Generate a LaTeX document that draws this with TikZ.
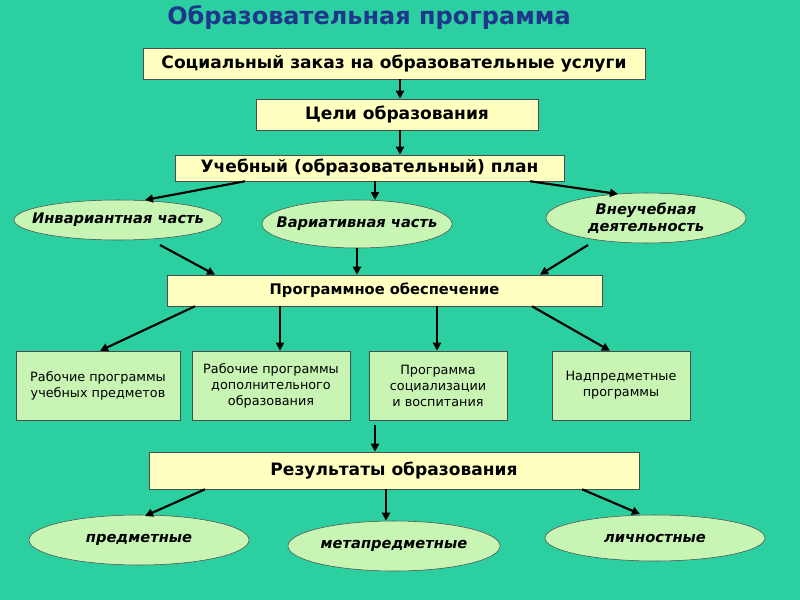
\documentclass[tikz,border=0pt]{standalone}
\usepackage{fontspec}
\setmainfont{DejaVu Sans}
\usetikzlibrary{shapes.geometric,arrows.meta}
\definecolor{bg}{RGB}{44,208,160}
\definecolor{yel}{RGB}{255,255,192}
\definecolor{lgr}{RGB}{200,245,180}
\definecolor{ttl}{RGB}{30,55,140}
\begin{document}
\begin{tikzpicture}[x=0.75pt,y=-0.75pt,
 ybox/.style={draw=black!70,fill=yel,minimum height=#1,inner sep=0pt},
 gbox/.style={draw=black!70,fill=lgr,inner sep=0pt,align=center,font=\fontsize{9.6}{12}\selectfont},
 ell/.style={ellipse,draw=black!70,fill=lgr,inner xsep=-25pt,inner ysep=0pt,font=\bfseries\itshape\fontsize{11}{13}\selectfont,align=center},
 arr/.style={-{Triangle[length=6pt,width=6pt]},line width=1.6pt}]
\fill[bg] (0,0) rectangle (800,600);
\useasboundingbox (0,0) rectangle (800,600);
\node[text=ttl,font=\bfseries\fontsize{18}{20}\selectfont] (t) at (369,17) {Образовательная программа};
\node[ybox=31*0.75pt,minimum width=502*0.75pt,font=\bfseries\fontsize{12.8}{14}\selectfont] (b1) at (394,63.5) {Социальный заказ на образовательные услуги};
\node[ybox=31*0.75pt,minimum width=282*0.75pt,font=\bfseries\fontsize{12.8}{14}\selectfont] (b2) at (397,114.5) {Цели образования};
\node[ybox=26*0.75pt,minimum width=389*0.75pt,font=\bfseries\fontsize{12.8}{14}\selectfont] (b3) at (369.5,168) {Учебный (образовательный)\ план};
\node[ell,minimum width=208*0.75pt,minimum height=40*0.75pt] (e1) at (118,220) {Инвариантная часть};
\node[ell,minimum width=190*0.75pt,minimum height=48*0.75pt] (e2) at (357,224) {Вариативная часть};
\node[ell,minimum width=200*0.75pt,minimum height=50*0.75pt] (e3) at (646,218) {Внеучебная\\деятельность};
\node[ybox=31*0.75pt,minimum width=435*0.75pt,font=\bfseries\fontsize{11}{12}\selectfont] (b4) at (384.5,290.5) {Программное обеспечение};
\node[gbox,minimum width=164*0.75pt,minimum height=69*0.75pt] (p1) at (98,385.5) {Рабочие программы\\учебных предметов};
\node[gbox,minimum width=158*0.75pt,minimum height=69*0.75pt] (p2) at (271,385.5) {Рабочие программы\\дополнительного\\образования};
\node[gbox,minimum width=138*0.75pt,minimum height=69*0.75pt] (p3) at (438,385.5) {Программа\\социализации\\и воспитания};
\node[gbox,minimum width=138*0.75pt,minimum height=69*0.75pt] (p4) at (621,385.5) {Надпредметные\\программы};
\node[ybox=37*0.75pt,minimum width=490*0.75pt,font=\bfseries\fontsize{12.8}{14}\selectfont] (b5) at (394,470.5) {Результаты образования};
\node[ell,minimum width=220*0.75pt,minimum height=50*0.75pt] (r1) at (139,540) {предметные};
\node[ell,minimum width=212*0.75pt,minimum height=50*0.75pt] (r2) at (394,546) {метапредметные};
\node[ell,minimum width=220*0.75pt,minimum height=46*0.75pt] (r3) at (655,538) {личностные};
\coordinate (c1) at (375,425);
\draw[arr] (b1.south-|400,0) -- (b2.north-|400,0);
\draw[arr] (b2.south-|400,0) -- (b3.north-|400,0);
\draw[arr] (b3.south-|245,0) -- (145,200);
\draw[arr] (b3.south-|375,0) -- (375,200);
\draw[arr] (b3.south-|530,0) -- (618,194);
\draw[arr] (160,245) -- (b4.north-|215,0);
\draw[arr] (e2.south) -- (b4.north-|357,0);
\draw[arr] (588,245) -- (b4.north-|540,0);
\draw[arr] (b4.south-|195,0) -- (p1.north-|100,0);
\draw[arr] (b4.south-|280,0) -- (p2.north-|280,0);
\draw[arr] (b4.south-|437,0) -- (p3.north-|437,0);
\draw[arr] (b4.south-|532,0) -- (p4.north-|610,0);
\draw[arr] (c1) -- (b5.north-|375,0);
\draw[arr] (b5.south-|205,0) -- (145,516);
\draw[arr] (b5.south-|386,0) -- (r2.north-|386,0);
\draw[arr] (b5.south-|582,0) -- (640,514);
\end{tikzpicture}
\end{document}
